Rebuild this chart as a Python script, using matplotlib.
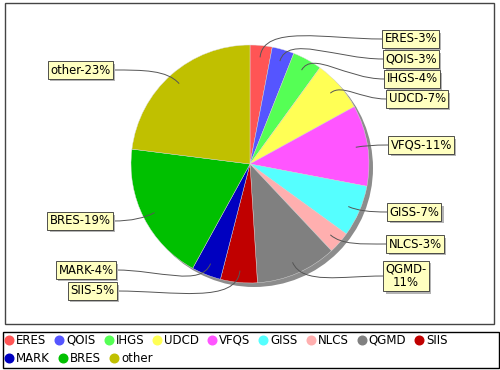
import matplotlib
matplotlib.use("Agg")
import matplotlib.pyplot as plt
import numpy as np
from matplotlib.path import Path
from matplotlib.patches import PathPatch, Circle, Rectangle

# ---- data ----
categories = ["ERES", "QOIS", "IHGS", "UDCD", "VFQS", "GISS", "NLCS", "QGMD", "SIIS", "MARK", "BRES", "other"]
shares = [3, 3, 4, 7, 11, 7, 3, 11, 5, 4, 19, 23]
colors = ["#ff5555", "#5555ff", "#55ff55", "#ffff55", "#ff55ff", "#55ffff",
          "#ffafaf", "#808080", "#c00000", "#0000c0", "#00c000", "#c0c000"]
label_texts = [f"{c}-{v}%" for c, v in zip(categories, shares)]
label_texts[7] = "QGMD-\n11%"

# ---- layout (pixel coords, y from top) ----
W, H = 500, 370
FS = 8.4
LFS = 8.5
label_pos = [
    ("R", 382, 39), ("R", 383, 59), ("R", 384, 79), ("R", 386, 99),
    ("R", 388, 145), ("R", 387, 212), ("R", 386, 244), ("R", 383, 276),
    ("L", 117, 291), ("L", 116, 270), ("L", 113, 221), ("L", 113, 70),
]
cx, cy_pix, R = 250, 164, 119

fig = plt.figure(figsize=(5, 3.7), dpi=100)
ax = fig.add_axes([0, 0, 1, 1])


def Y(yp):
    return H - yp


cy = Y(cy_pix)
ax.add_patch(Circle((cx + 4, cy - 4), R, fc="#8c8c8c", ec="none", zorder=2))
wedges, _ = ax.pie(shares, colors=colors, startangle=90, counterclock=False,
                   center=(cx, cy), radius=R, frame=True,
                   wedgeprops=dict(linewidth=0.3, edgecolor="#dddddd"))
for w in wedges:
    w.set_zorder(3)
ax.set_xlim(0, W)
ax.set_ylim(0, H)
ax.axis("off")
ax.set_aspect("auto")

# plot area border
ax.add_patch(Rectangle((5, Y(324)), 489, 321.5, fill=False, ec="#444444", lw=1.0, zorder=1))
# legend border
ax.add_patch(Rectangle((3, Y(368)), 495.5, 36, fill=False, ec="#000000", lw=1.0, zorder=1))

# leader lines and labels
total = float(sum(shares))
start = 90.0
label_objs = []
for i, (v, txt) in enumerate(zip(shares, label_texts)):
    ang = start - v / total * 360.0 / 2
    start -= v / total * 360.0
    a = np.deg2rad(ang)
    ux, uy = np.cos(a), np.sin(a)
    p0 = (cx + 0.9 * R * ux, cy + 0.9 * R * uy)
    side, ex, ecy = label_pos[i]
    p3 = (ex, Y(ecy))
    d = 0.45 * np.hypot(p3[0] - p0[0], p3[1] - p0[1])
    d = min(d, 60)
    p1 = (p0[0] + d * 0.6 * ux, p0[1] + d * 0.6 * uy)
    hx = -1 if side == "R" else 1
    p2 = (p3[0] + hx * d, p3[1])
    path = Path([p0, p1, p2, p3], [Path.MOVETO, Path.CURVE4, Path.CURVE4, Path.CURVE4])
    ax.add_patch(PathPatch(path, fc="none", ec="#555555", lw=0.7, zorder=4))

    ha = "left" if side == "R" else "right"
    tx = ex + 2.5 if side == "R" else ex - 2.5
    t = ax.text(tx, Y(ecy), txt, color="black", zorder=6, fontsize=FS, ha=ha, va="center",
                multialignment="center", linespacing=1.05, family="DejaVu Sans",
                bbox=dict(boxstyle="square,pad=0.18", fc="#ffffc0", ec="#333333", lw=0.6))
    label_objs.append(t)

fig.canvas.draw()
renderer = fig.canvas.get_renderer()
inv = ax.transData.inverted()
for t in label_objs:
    bb = t.get_bbox_patch().get_window_extent(renderer)
    (x0, y0), (x1, y1) = inv.transform([(bb.x0, bb.y0), (bb.x1, bb.y1)])
    ax.add_patch(Rectangle((x0 + 2.2, y0 - 2.2), x1 - x0, y1 - y0,
                           fc="#b4b4b4", ec="none", zorder=5))

# legend (flow layout, 9 items in first row)
rows = [categories[:9], categories[9:]]
rows_y = [340, 358]
ci = 0
for r, items in enumerate(rows):
    x = 5.0
    yy = Y(rows_y[r])
    for c in items:
        col = colors[ci]
        ci += 1
        t = ax.text(x + 11, yy, c, fontsize=LFS, family="DejaVu Sans", va="center", ha="left")
        wpx = t.get_window_extent(renderer).width
        ax.plot([x + 4], [yy], marker="o", ms=6.2, color=col, mec=col, zorder=6)
        x = x + 11 + wpx + 9

fig.savefig("out.png", dpi=100)
